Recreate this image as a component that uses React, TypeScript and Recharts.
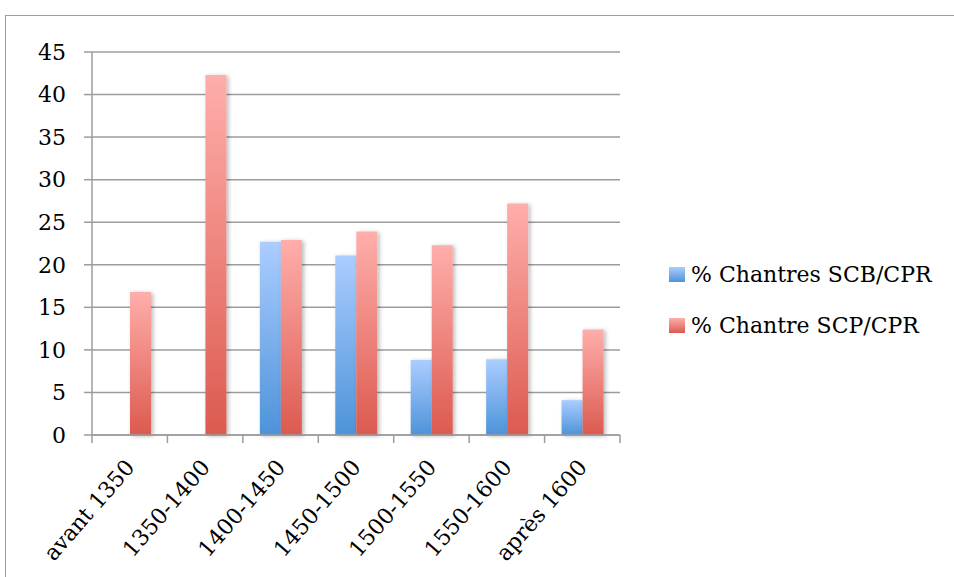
import React from "react";
import { BarChart, Bar, XAxis, YAxis, CartesianGrid, Legend } from "recharts";

const categories = ["avant 1350", "1350-1400", "1400-1450", "1450-1500", "1500-1550", "1550-1600", "après 1600"];
const scbValues = [0, 0, 22.7, 21.1, 8.8, 8.9, 4.1];
const scpValues = [16.8, 42.3, 22.9, 23.9, 22.3, 27.2, 12.4];
const yTicks = [0, 5, 10, 15, 20, 25, 30, 35, 40, 45];
const seriesNames = ["% Chantres SCB/CPR", "% Chantre SCP/CPR"];

const data = categories.map((c, i) => ({ name: c, scb: scbValues[i], scp: scpValues[i] }));

const W = 954;
const H = 577;
const PLOT_LEFT = 92;
const PLOT_RIGHT = 620;
const PLOT_TOP = 52;
const PLOT_BOTTOM = 435;
const FONT = "DejaVu Serif";
const GRID = "#9c9c9c";
const BAND = (PLOT_RIGHT - PLOT_LEFT) / categories.length;

const XTick = (props: any) => {
  const { x, payload, index } = props;
  const last = index === categories.length - 1;
  const ax = x + 6;
  const ay = PLOT_BOTTOM + 33;
  return (
    <g>
      <line x1={x - BAND / 2} x2={x - BAND / 2} y1={PLOT_BOTTOM} y2={PLOT_BOTTOM + 8} stroke={GRID} strokeWidth={1.5} />
      {last && <line x1={x + BAND / 2} x2={x + BAND / 2} y1={PLOT_BOTTOM} y2={PLOT_BOTTOM + 8} stroke={GRID} strokeWidth={1.5} />}
      <text
        x={ax}
        y={ay}
        transform={`rotate(-49, ${ax}, ${ay})`}
        textAnchor="end"
        style={{ fontFamily: FONT }}
        fontSize={22}
        fill="#000"
      >
        {payload.value}
      </text>
    </g>
  );
};

const LegendContent = () => (
  <div style={{ fontFamily: FONT, fontSize: 22, color: "#000" }}>
    {seriesNames.map((n, i) => (
      <div key={n} style={{ display: "flex", alignItems: "center", height: 51 }}>
        <svg width={16} height={15} style={{ marginRight: 6 }}>
          <rect x={0} y={0} width={16} height={15} fill={i === 0 ? "url(#gBlue)" : "url(#gRed)"} />
        </svg>
        <span style={{ whiteSpace: "nowrap" }}>{n}</span>
      </div>
    ))}
  </div>
);

export default function App() {
  return (
    <div style={{ position: "absolute", left: 0, top: 0, width: W, height: H, overflow: "hidden", background: "#fff" }}>
      <div
        style={{
          position: "absolute",
          left: 5,
          top: 15,
          width: W + 20,
          height: H + 20,
          border: "1.5px solid #9c9c9c",
        }}
      />
      <div style={{ position: "absolute", left: 0, top: 0 }}>
        <BarChart
          width={W}
          height={H}
          data={data}
          margin={{ top: PLOT_TOP, right: W - PLOT_RIGHT, left: 0, bottom: 0 }}
          barSize={21}
          barGap={0}
        >
          <defs>
            <linearGradient id="gBlue" x1="0" y1="0" x2="0" y2="1">
              <stop offset="0%" stopColor="#abcdff" />
              <stop offset="100%" stopColor="#4d93d9" />
            </linearGradient>
            <linearGradient id="gRed" x1="0" y1="0" x2="0" y2="1">
              <stop offset="0%" stopColor="#ffaeab" />
              <stop offset="100%" stopColor="#dc5a4f" />
            </linearGradient>
            <filter id="shadow" x="-30%" y="-10%" width="160%" height="130%">
              <feDropShadow dx="2" dy="1" stdDeviation="2" floodColor="#000" floodOpacity="0.28" />
            </filter>
          </defs>
          <CartesianGrid vertical={false} stroke={GRID} strokeWidth={1.5} />
          <XAxis
            dataKey="name"
            height={H - PLOT_BOTTOM}
            axisLine={{ stroke: GRID, strokeWidth: 1.5 }}
            tickLine={false}
            interval={0}
            tick={<XTick />}
          />
          <YAxis
            width={PLOT_LEFT}
            domain={[0, 45]}
            ticks={yTicks}
            interval={0}
            axisLine={{ stroke: GRID, strokeWidth: 1.5 }}
            tickLine={{ stroke: GRID, strokeWidth: 1.5 }}
            tickSize={8}
            tickMargin={18}
            tick={{ style: { fontFamily: FONT }, fontSize: 22, fill: "#000" }}
          />
          <Legend
            layout="vertical"
            align="center"
            verticalAlign="middle"
            content={<LegendContent />}
            wrapperStyle={{ left: 669, top: 249, width: 285 }}
          />
          <Bar dataKey="scb" name={seriesNames[0]} fill="url(#gBlue)" filter="url(#shadow)" isAnimationActive={false} />
          <Bar dataKey="scp" name={seriesNames[1]} fill="url(#gRed)" filter="url(#shadow)" isAnimationActive={false} />
        </BarChart>
      </div>
    </div>
  );
}
